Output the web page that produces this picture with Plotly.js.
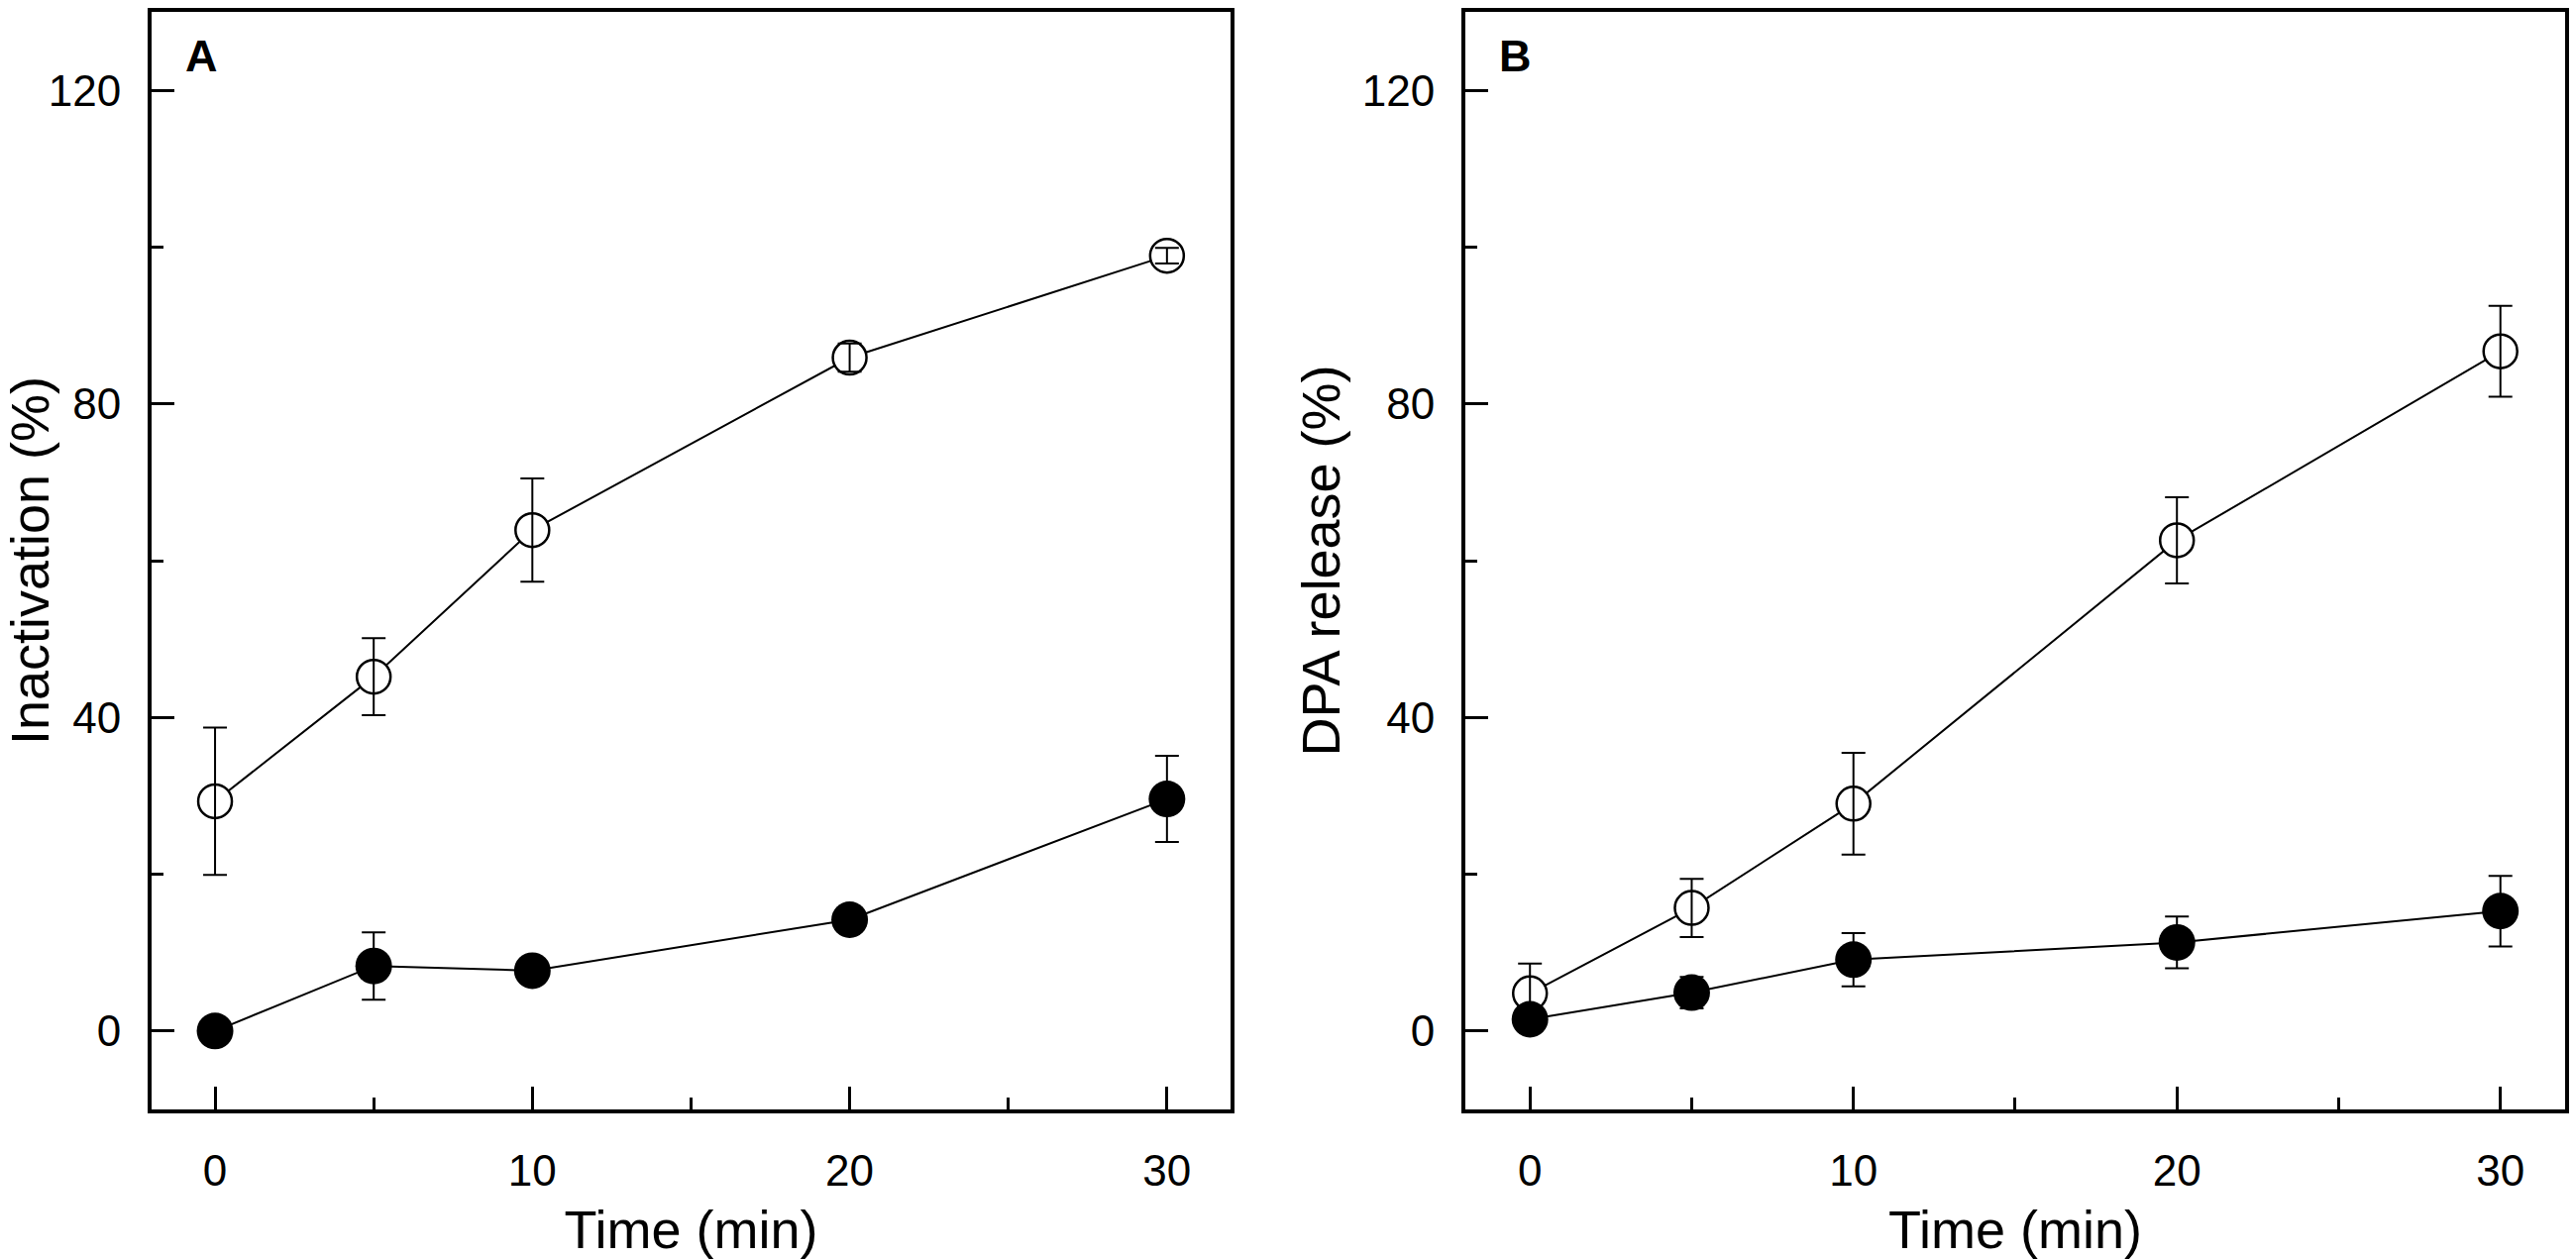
<!DOCTYPE html>
<html>
<head>
<meta charset="utf-8">
<script src="https://cdn.plot.ly/plotly-3.0.1.min.js"></script>
<style>
  html, body { margin: 0; padding: 0; background: #fff; }
  #plot { width: 2600px; height: 1271px; }
</style>
</head>
<body>
<div id="plot"></div>
<script>
// time points (min)
var time = [0, 5, 10, 20, 30];

// panel A : inactivation (%)
var inact_open = [29.3, 45.2, 63.9, 85.9, 98.9];
var inact_open_err = [9.4, 4.9, 6.6, 1.8, 1.0];
var inact_fill = [0, 8.3, 7.7, 14.2, 29.6];
var inact_fill_err = [0, 4.3, 0, 0, 5.5];

// panel B : DPA release (%)
var dpa_open = [4.8, 15.7, 29.0, 62.6, 86.7];
var dpa_open_err = [3.8, 3.7, 6.5, 5.5, 5.8];
var dpa_fill = [1.5, 4.9, 9.1, 11.3, 15.3];
var dpa_fill_err = [0.6, 2.0, 3.4, 3.3, 4.5];

var font = 'Arial, "Liberation Sans", sans-serif';

function series(x, y, xa, ya, filled) {
  return {
    x: x, y: y, xaxis: xa, yaxis: ya,
    type: 'scatter', mode: 'lines+markers',
    line: {color: '#000', width: 2},
    marker: {
      size: filled ? 37 : 34,
      color: filled ? '#000' : '#fff',
      line: {color: '#000', width: filled ? 0 : 2.5}
    },
    cliponaxis: false,
    showlegend: false
  };
}

// error bars in their own traces so they sit on top of the markers
function bars(x, y, err, xa, ya) {
  return {
    x: x, y: y, xaxis: xa, yaxis: ya,
    type: 'scatter', mode: 'markers',
    marker: {size: 1, color: 'rgba(0,0,0,0)'},
    error_y: {type: 'data', array: err, visible: true, color: '#000', thickness: 2, width: 12},
    cliponaxis: false,
    hoverinfo: 'skip',
    showlegend: false
  };
}

var data_plot = [
  series(time, inact_open, 'x', 'y', false),
  series(time, inact_fill, 'x', 'y', true),
  bars(time, inact_open, inact_open_err, 'x', 'y'),
  bars(time, inact_fill, inact_fill_err, 'x', 'y'),
  series(time, dpa_open, 'x2', 'y2', false),
  series(time, dpa_fill, 'x2', 'y2', true),
  bars(time, dpa_open, dpa_open_err, 'x2', 'y2'),
  bars(time, dpa_fill, dpa_fill_err, 'x2', 'y2')
];

function xaxis(domain, anchor) {
  return {
    domain: domain, anchor: anchor,
    range: [-2, 32], tick0: 0, dtick: 10,
    showgrid: false, zeroline: false,
    showline: true, linecolor: '#000', linewidth: 4, mirror: true,
    ticks: 'inside', ticklen: 23, tickwidth: 3, tickcolor: '#000',
    minor: {dtick: 5, ticks: 'inside', ticklen: 12, tickwidth: 3, tickcolor: '#000'},
    ticklabelstandoff: 20,
    tickfont: {family: font, size: 44, color: '#000'},
    title: {text: 'Time (min)', standoff: 22, font: {family: font, size: 54, color: '#000'}}
  };
}

function yaxis(title, anchor) {
  return {
    anchor: anchor, domain: [0, 1],
    range: [-10, 130], tick0: 0, dtick: 40,
    showgrid: false, zeroline: false,
    showline: true, linecolor: '#000', linewidth: 4, mirror: true,
    ticks: 'inside', ticklen: 23, tickwidth: 3, tickcolor: '#000',
    minor: {dtick: 20, ticks: 'inside', ticklen: 12, tickwidth: 3, tickcolor: '#000'},
    ticklabelstandoff: 18,
    tickfont: {family: font, size: 44, color: '#000'},
    title: {text: title, standoff: 6, font: {family: font, size: 54, color: '#000'}}
  };
}

var layout = {
  width: 2600, height: 1271,
  margin: {l: 153, r: 11, t: 12, b: 151},
  paper_bgcolor: '#fff', plot_bgcolor: '#fff',
  xaxis: xaxis([0, 0.447], 'y'),
  yaxis: yaxis('Inactivation (%)', 'x'),
  xaxis2: xaxis([0.5443, 1], 'y2'),
  yaxis2: yaxis('DPA release (%)', 'x2'),
  annotations: [
    {text: '<b>A</b>', xref: 'x domain', yref: 'y domain', x: 0.029, y: 0.96,
     xanchor: 'left', yanchor: 'middle', showarrow: false,
     font: {family: font, size: 45, color: '#000'}},
    {text: '<b>B</b>', xref: 'x2 domain', yref: 'y2 domain', x: 0.029, y: 0.96,
     xanchor: 'left', yanchor: 'middle', showarrow: false,
     font: {family: font, size: 45, color: '#000'}}
  ]
};

Plotly.newPlot('plot', data_plot, layout, {displayModeBar: false, staticPlot: true});
</script>
</body>
</html>
